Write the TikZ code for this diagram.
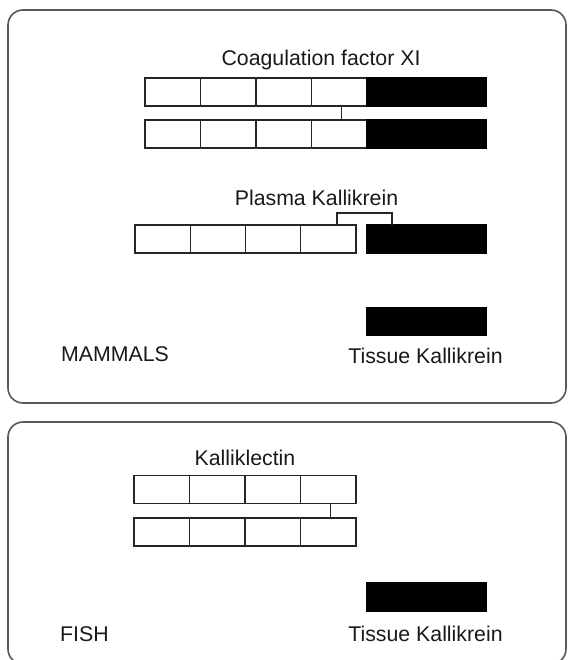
\documentclass[tikz,border=0pt]{standalone}
\usepackage{fontspec}
\setmainfont{Liberation Sans}
\usetikzlibrary{calc}
\begin{document}
\begin{tikzpicture}[x=1pt,y=-1pt,
  panel/.style={draw=black!65, line width=1.6pt, rounded corners=15pt},
  cell/.style={draw=black!85, line width=1.3pt, minimum height=28pt, inner sep=0pt, outer sep=0pt},
  blk/.style={cell, fill=black, draw=black},
  link/.style={draw=black!85, line width=1.3pt},
  lbl/.style={font=\fontsize{21.3}{24}\selectfont, text=black!90, inner sep=0pt}]
\useasboundingbox (0,0) rectangle (567,660);
\clip (0,0) rectangle (567,660);
% panels
\draw[panel] (8,10) rectangle (566,403);
\draw[panel] (8,422) rectangle (566,664);
% Coagulation factor XI
\node[lbl, anchor=base] (tcoag) at (321,66) {Coagulation factor XI};
\foreach \i in {1,...,4} {
  \node[cell, minimum width=55.5pt] (a\i) at ({145+55.5*(\i-0.5)},92) {};
  \node[cell, minimum width=55.5pt] (b\i) at ({145+55.5*(\i-0.5)},134) {};
}
\node[blk, minimum width=119pt] (a5) at (426.5,92) {};
\node[blk, minimum width=119pt] (b5) at (426.5,134) {};
\draw[link] ($(a4.south)+(2.5,0)$) -- ($(b4.north)+(2.5,0)$);
% Plasma Kallikrein
\node[lbl, anchor=base] (tplasma) at (316.5,205) {Plasma Kallikrein};
\foreach \i in {1,...,4} {
  \node[cell, minimum width=55.25pt] (p\i) at ({135+55.25*(\i-0.5)},239) {};
}
\node[blk, minimum width=119pt] (p5) at (426.5,239) {};
\coordinate (bl) at (337,213);
\coordinate (br) at (392,213);
\draw[link] (p4.north -| bl) -- (bl) -- (br) -- (p5.north -| br);
% Tissue Kallikrein (mammals)
\node[blk, minimum width=119pt] (tk1) at (426.5,321.5) {};
\node[lbl, anchor=base] (ttk1) at (425.5,363) {Tissue Kallikrein};
\node[lbl, anchor=base west] (tmam) at (61,361) {MAMMALS};
% Kalliklectin
\node[lbl, anchor=base] (tkal) at (245,465) {Kalliklectin};
\foreach \i in {1,...,4} {
  \node[cell, minimum width=55.5pt] (k\i) at ({134+55.5*(\i-0.5)},489.5) {};
  \node[cell, minimum width=55.5pt] (m\i) at ({134+55.5*(\i-0.5)},532) {};
}
\draw[link] ($(k4.south)+(2.5,0)$) -- ($(m4.north)+(2.5,0)$);
% Tissue Kallikrein (fish)
\node[blk, minimum width=119pt] (tk2) at (426.5,597) {};
\node[lbl, anchor=base] (ttk2) at (425.5,641) {Tissue Kallikrein};
\node[lbl, anchor=base west] (tfish) at (60,641) {FISH};
\end{tikzpicture}
\end{document}
